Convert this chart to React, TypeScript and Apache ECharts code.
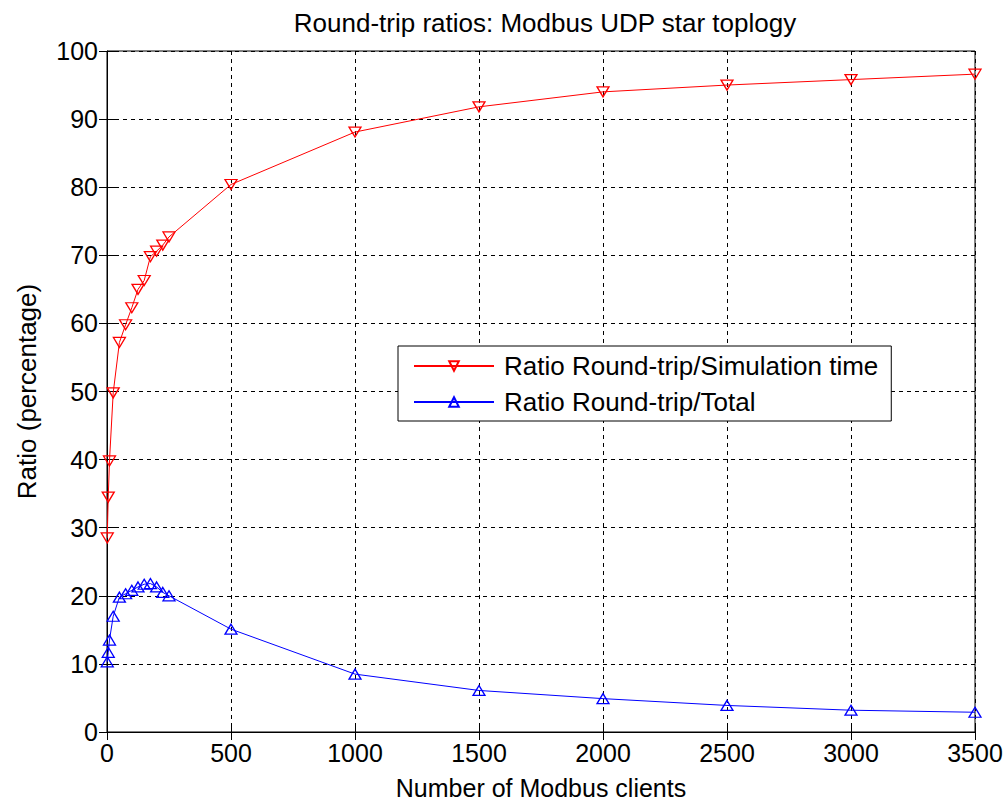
import React, { useEffect, useRef } from "react";
import * as echarts from "echarts";

const clients = [1, 5, 10, 25, 50, 75, 100, 125, 150, 175, 200, 225, 250, 500, 1000, 1500, 2000, 2500, 3000, 3500];
const simRatio = [28.5, 34.5, 39.8, 49.8, 57.2, 59.8, 62.3, 65.0, 66.3, 69.8, 70.6, 71.5, 72.7, 80.4, 88.1, 91.8, 94.0, 95.0, 95.8, 96.6];
const totalRatio = [10.3, 11.7, 13.5, 17.0, 19.8, 20.3, 20.8, 21.3, 21.7, 21.8, 21.3, 20.5, 20.0, 15.1, 8.5, 6.1, 4.9, 3.9, 3.2, 2.9];

const titleText = "Round-trip ratios: Modbus UDP star toplogy";
const xName = "Number of Modbus clients";
const yName = "Ratio (percentage)";
const nameSim = "Ratio Round-trip/Simulation time";
const nameTotal = "Ratio Round-trip/Total";

const FONT = "Liberation Sans, Arial, sans-serif";

export default function App() {
  const ref = useRef<HTMLDivElement>(null);
  useEffect(() => {
    if (!ref.current) return;
    const chart = echarts.init(ref.current, null, { renderer: "svg" });
    const gridLine = { show: true, lineStyle: { color: "#000", type: [4, 4] as any, width: 1 } };
    const hiddenAxisCommon = {
      axisLine: { show: false },
      axisLabel: { show: false },
      splitLine: { show: false },
      axisTick: { show: true, inside: true, length: 8, lineStyle: { color: "#000" } },
    };
    chart.setOption({
      animation: false,
      backgroundColor: "#fff",
      textStyle: { fontFamily: FONT },
      title: {
        text: titleText,
        left: 540,
        textAlign: "center",
        top: 5,
        textStyle: { fontSize: 26, fontWeight: "normal", color: "#000", fontFamily: FONT },
      },
      grid: {
        left: 107,
        right: 31,
        top: 51,
        bottom: 70,
        outerBoundsMode: "none",
        containLabel: false,
        show: true,
        borderColor: "#000",
        borderWidth: 1,
        backgroundColor: "#fff",
      },
      legend: {
        left: 398,
        top: 346,
        orient: "vertical",
        backgroundColor: "#fff",
        borderColor: "#000",
        borderWidth: 1,
        padding: [7, 13, 6, 15],
        itemGap: 10,
        itemWidth: 80,
        itemHeight: 12,
        textStyle: { fontSize: 26, color: "#000", fontFamily: FONT, padding: [0, 0, 0, 5] },
        data: [nameSim, nameTotal],
      },
      xAxis: [
        {
          type: "value",
          min: 0,
          max: 3500,
          interval: 500,
          name: xName,
          nameLocation: "middle",
          nameGap: 44,
          nameTextStyle: { fontSize: 25, lineHeight: 24, color: "#000", fontFamily: FONT },
          axisLine: { show: true, lineStyle: { color: "#000" } },
          axisTick: { show: true, inside: true, length: 8, lineStyle: { color: "#000" } },
          axisLabel: { fontSize: 25, color: "#000", margin: 8, fontFamily: FONT, formatter: (v: number) => String(v) },
          splitLine: gridLine,
        },
        { type: "value", min: 0, max: 3500, interval: 500, position: "top", ...hiddenAxisCommon },
      ],
      yAxis: [
        {
          type: "value",
          min: 0,
          max: 100,
          interval: 10,
          name: yName,
          nameLocation: "middle",
          nameGap: 67,
          nameTextStyle: { fontSize: 26, color: "#000", fontFamily: FONT },
          axisLine: { show: true, lineStyle: { color: "#000" } },
          axisTick: { show: true, inside: true, length: 8, lineStyle: { color: "#000" } },
          axisLabel: { fontSize: 25, color: "#000", margin: 9, fontFamily: FONT, formatter: (v: number) => String(v) },
          splitLine: gridLine,
        },
        { type: "value", min: 0, max: 100, interval: 10, position: "right", ...hiddenAxisCommon },
      ],
      series: [
        {
          name: nameSim,
          type: "line",
          data: clients.map((c, i) => [c, simRatio[i]]),
          symbol: "path://M0,0 L12,0 L6,10 Z",
          symbolSize: [12, 10],
          lineStyle: { color: "#ff0000", width: 1 },
          itemStyle: { color: "rgba(0,0,0,0)", borderColor: "#ff0000", borderWidth: 1.3 },
          z: 3,
        },
        {
          name: nameTotal,
          type: "line",
          data: clients.map((c, i) => [c, totalRatio[i]]),
          symbol: "path://M6,0 L12,10 L0,10 Z",
          symbolSize: [12, 10],
          lineStyle: { color: "#0000ff", width: 1 },
          itemStyle: { color: "rgba(0,0,0,0)", borderColor: "#0000ff", borderWidth: 1.3 },
          z: 3,
        },
      ],
    });
    return () => chart.dispose();
  }, []);
  return <div ref={ref} style={{ position: "fixed", left: 0, top: 0, width: 1006, height: 802 }} />;
}
